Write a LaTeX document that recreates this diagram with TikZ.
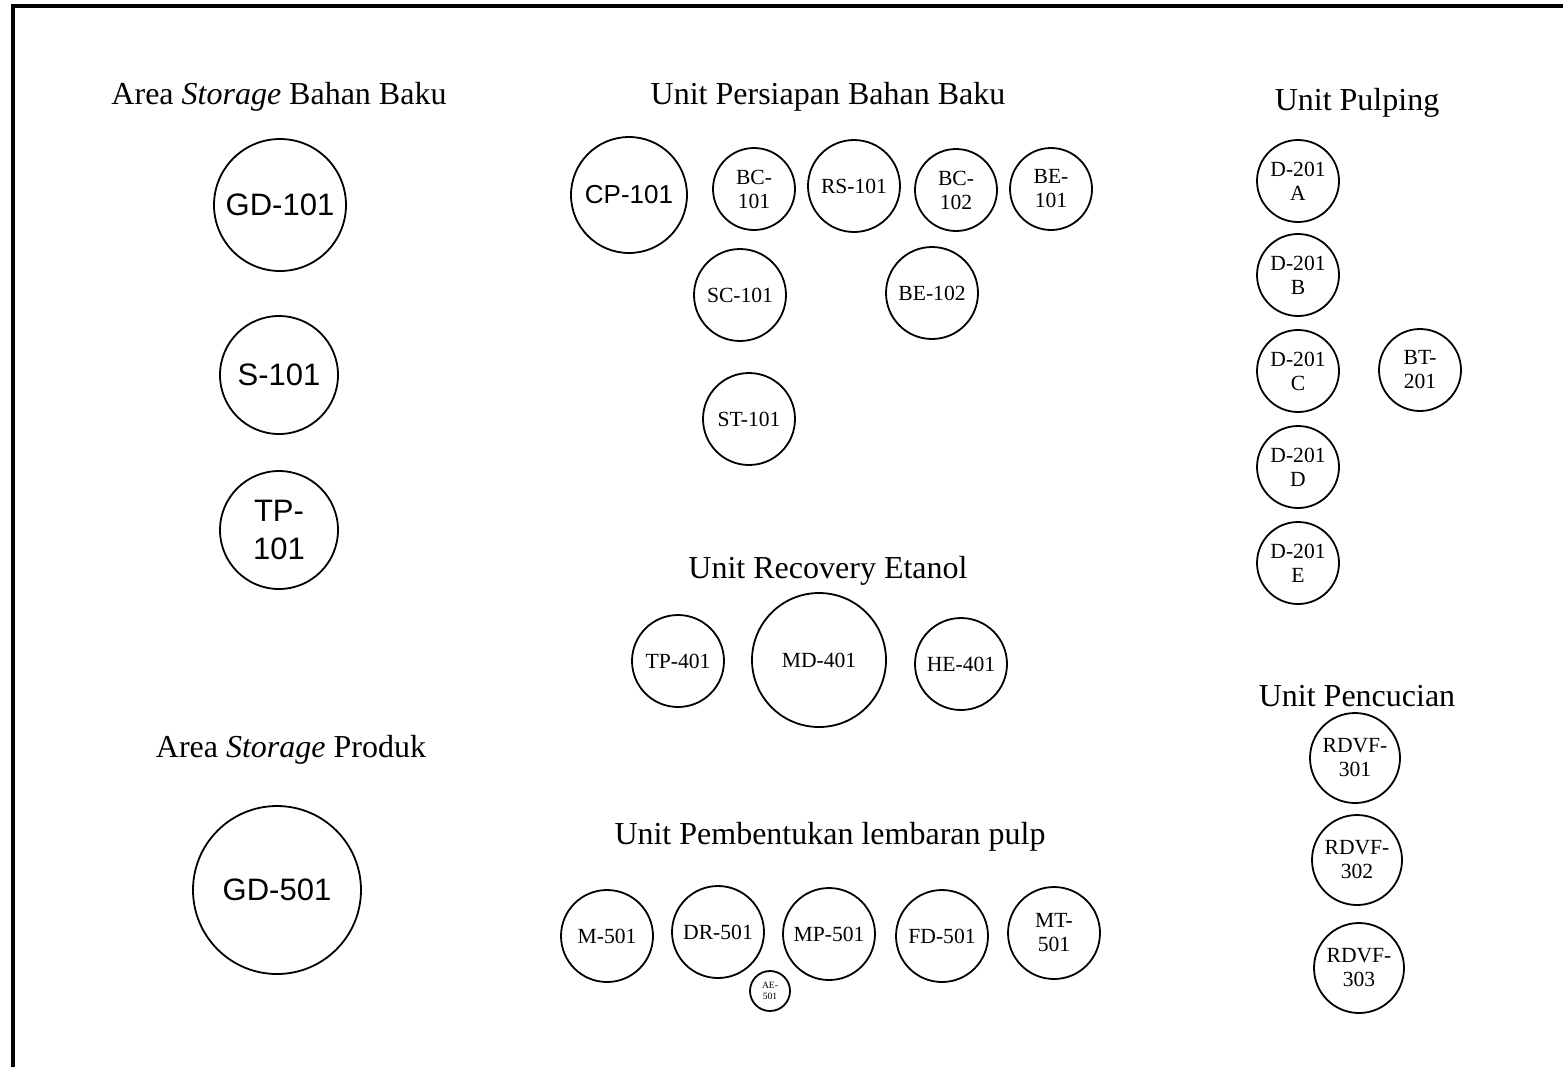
\documentclass[tikz,border=0pt]{standalone}
\usepackage{fontspec}
\setmainfont{Liberation Serif}
\setsansfont{Liberation Sans}
\newcommand\tms{\rmfamily\fontsize{10.8}{12}\selectfont}
\newcommand\tnyf{\rmfamily\fontsize{4.8}{5.6}\selectfont}
\newcommand\arl{\sffamily\fontsize{15.5}{19}\selectfont}
\newcommand\arm{\sffamily\fontsize{13}{15}\selectfont}
\newcommand\ttl{\rmfamily\fontsize{16}{19}\selectfont}
\tikzset{
  eq/.style={circle, draw, line width=0.9pt, inner sep=0pt, align=center, font=\tms},
  eqa/.style={eq, font=\arl},
  eqb/.style={eq, font=\arm},
  eqs/.style={eq, font=\tnyf},
  title/.style={inner sep=0pt, font=\ttl},
  frame/.style={line width=2pt}
}
\begin{document}
\begin{tikzpicture}[x=0.5pt,y=-0.5pt]
\useasboundingbox (0,0) rectangle (1563,1067);
\coordinate (fb) at (13,1067);
\coordinate (fc) at (13,6);
\coordinate (fr) at (1563,6);
\draw[frame] (fb) -- (fc) -- (fr);

% titles
\node[title] (t1) at (279,97) {Area \textit{Storage} Bahan Baku};
\node[title] (t2) at (828,97) {Unit Persiapan Bahan Baku};
\node[title] (t3) at (1357,103) {Unit Pulping};
\node[title] (t4) at (828,571) {Unit Recovery Etanol};
\node[title] (t5) at (291,750) {Area \textit{Storage} Produk};
\node[title] (t6) at (830,837) {Unit Pembentukan lembaran pulp};
\node[title] (t7) at (1357,696) {Unit Pencucian};

% storage bahan baku
\node[eqa, minimum size=66pt] (gd101) at (280,205) {GD-101};
\node[eqa, minimum size=59pt] (s101) at (279,375) {S-101};
\node[eqa, minimum size=59pt] (tp101) at (279,530) {TP-\\101};
\node[eqa, minimum size=84pt] (gd501) at (277,890) {GD-501};

% persiapan
\node[eqb, minimum size=58pt] (cp101) at (629,195) {CP-101};
\node[eq, minimum size=41pt] (bc101) at (754,189) {BC-\\101};
\node[eq, minimum size=46pt] (rs101) at (854,186) {RS-101};
\node[eq, minimum size=41pt] (bc102) at (956,190) {BC-\\102};
\node[eq, minimum size=41pt] (be101) at (1051,189) {BE-\\101};
\node[eq, minimum size=46pt] (sc101) at (740,295) {SC-101};
\node[eq, minimum size=46pt] (be102) at (932,293) {BE-102};
\node[eq, minimum size=46pt] (st101) at (749,419) {ST-101};

% pulping
\node[eq, minimum size=41pt] (d201a) at (1298,181) {D-201\\A};
\node[eq, minimum size=41pt] (d201b) at (1298,275) {D-201\\B};
\node[eq, minimum size=41pt] (d201c) at (1298,371) {D-201\\C};
\node[eq, minimum size=41pt] (d201d) at (1298,467) {D-201\\D};
\node[eq, minimum size=41pt] (d201e) at (1298,563) {D-201\\E};
\node[eq, minimum size=41pt] (bt201) at (1420,370) {BT-\\201};

% recovery
\node[eq, minimum size=46pt] (tp401) at (678,661) {TP-401};
\node[eq, minimum size=67pt] (md401) at (819,660) {MD-401};
\node[eq, minimum size=46pt] (he401) at (961,664) {HE-401};

% pembentukan
\node[eq, minimum size=46pt] (m501) at (607,936) {M-501};
\node[eq, minimum size=46pt] (dr501) at (718,932) {DR-501};
\node[eqs, minimum size=20pt] (ae501) at (770,991) {AE-\\501};
\node[eq, minimum size=46pt] (mp501) at (829,934) {MP-501};
\node[eq, minimum size=46pt] (fd501) at (942,936) {FD-501};
\node[eq, minimum size=46pt] (mt501) at (1054,933) {MT-\\501};

% pencucian
\node[eq, minimum size=45pt] (rd301) at (1355,758) {RDVF-\\301};
\node[eq, minimum size=45pt] (rd302) at (1357,860) {RDVF-\\302};
\node[eq, minimum size=45pt] (rd303) at (1359,968) {RDVF-\\303};
\end{tikzpicture}
\end{document}
